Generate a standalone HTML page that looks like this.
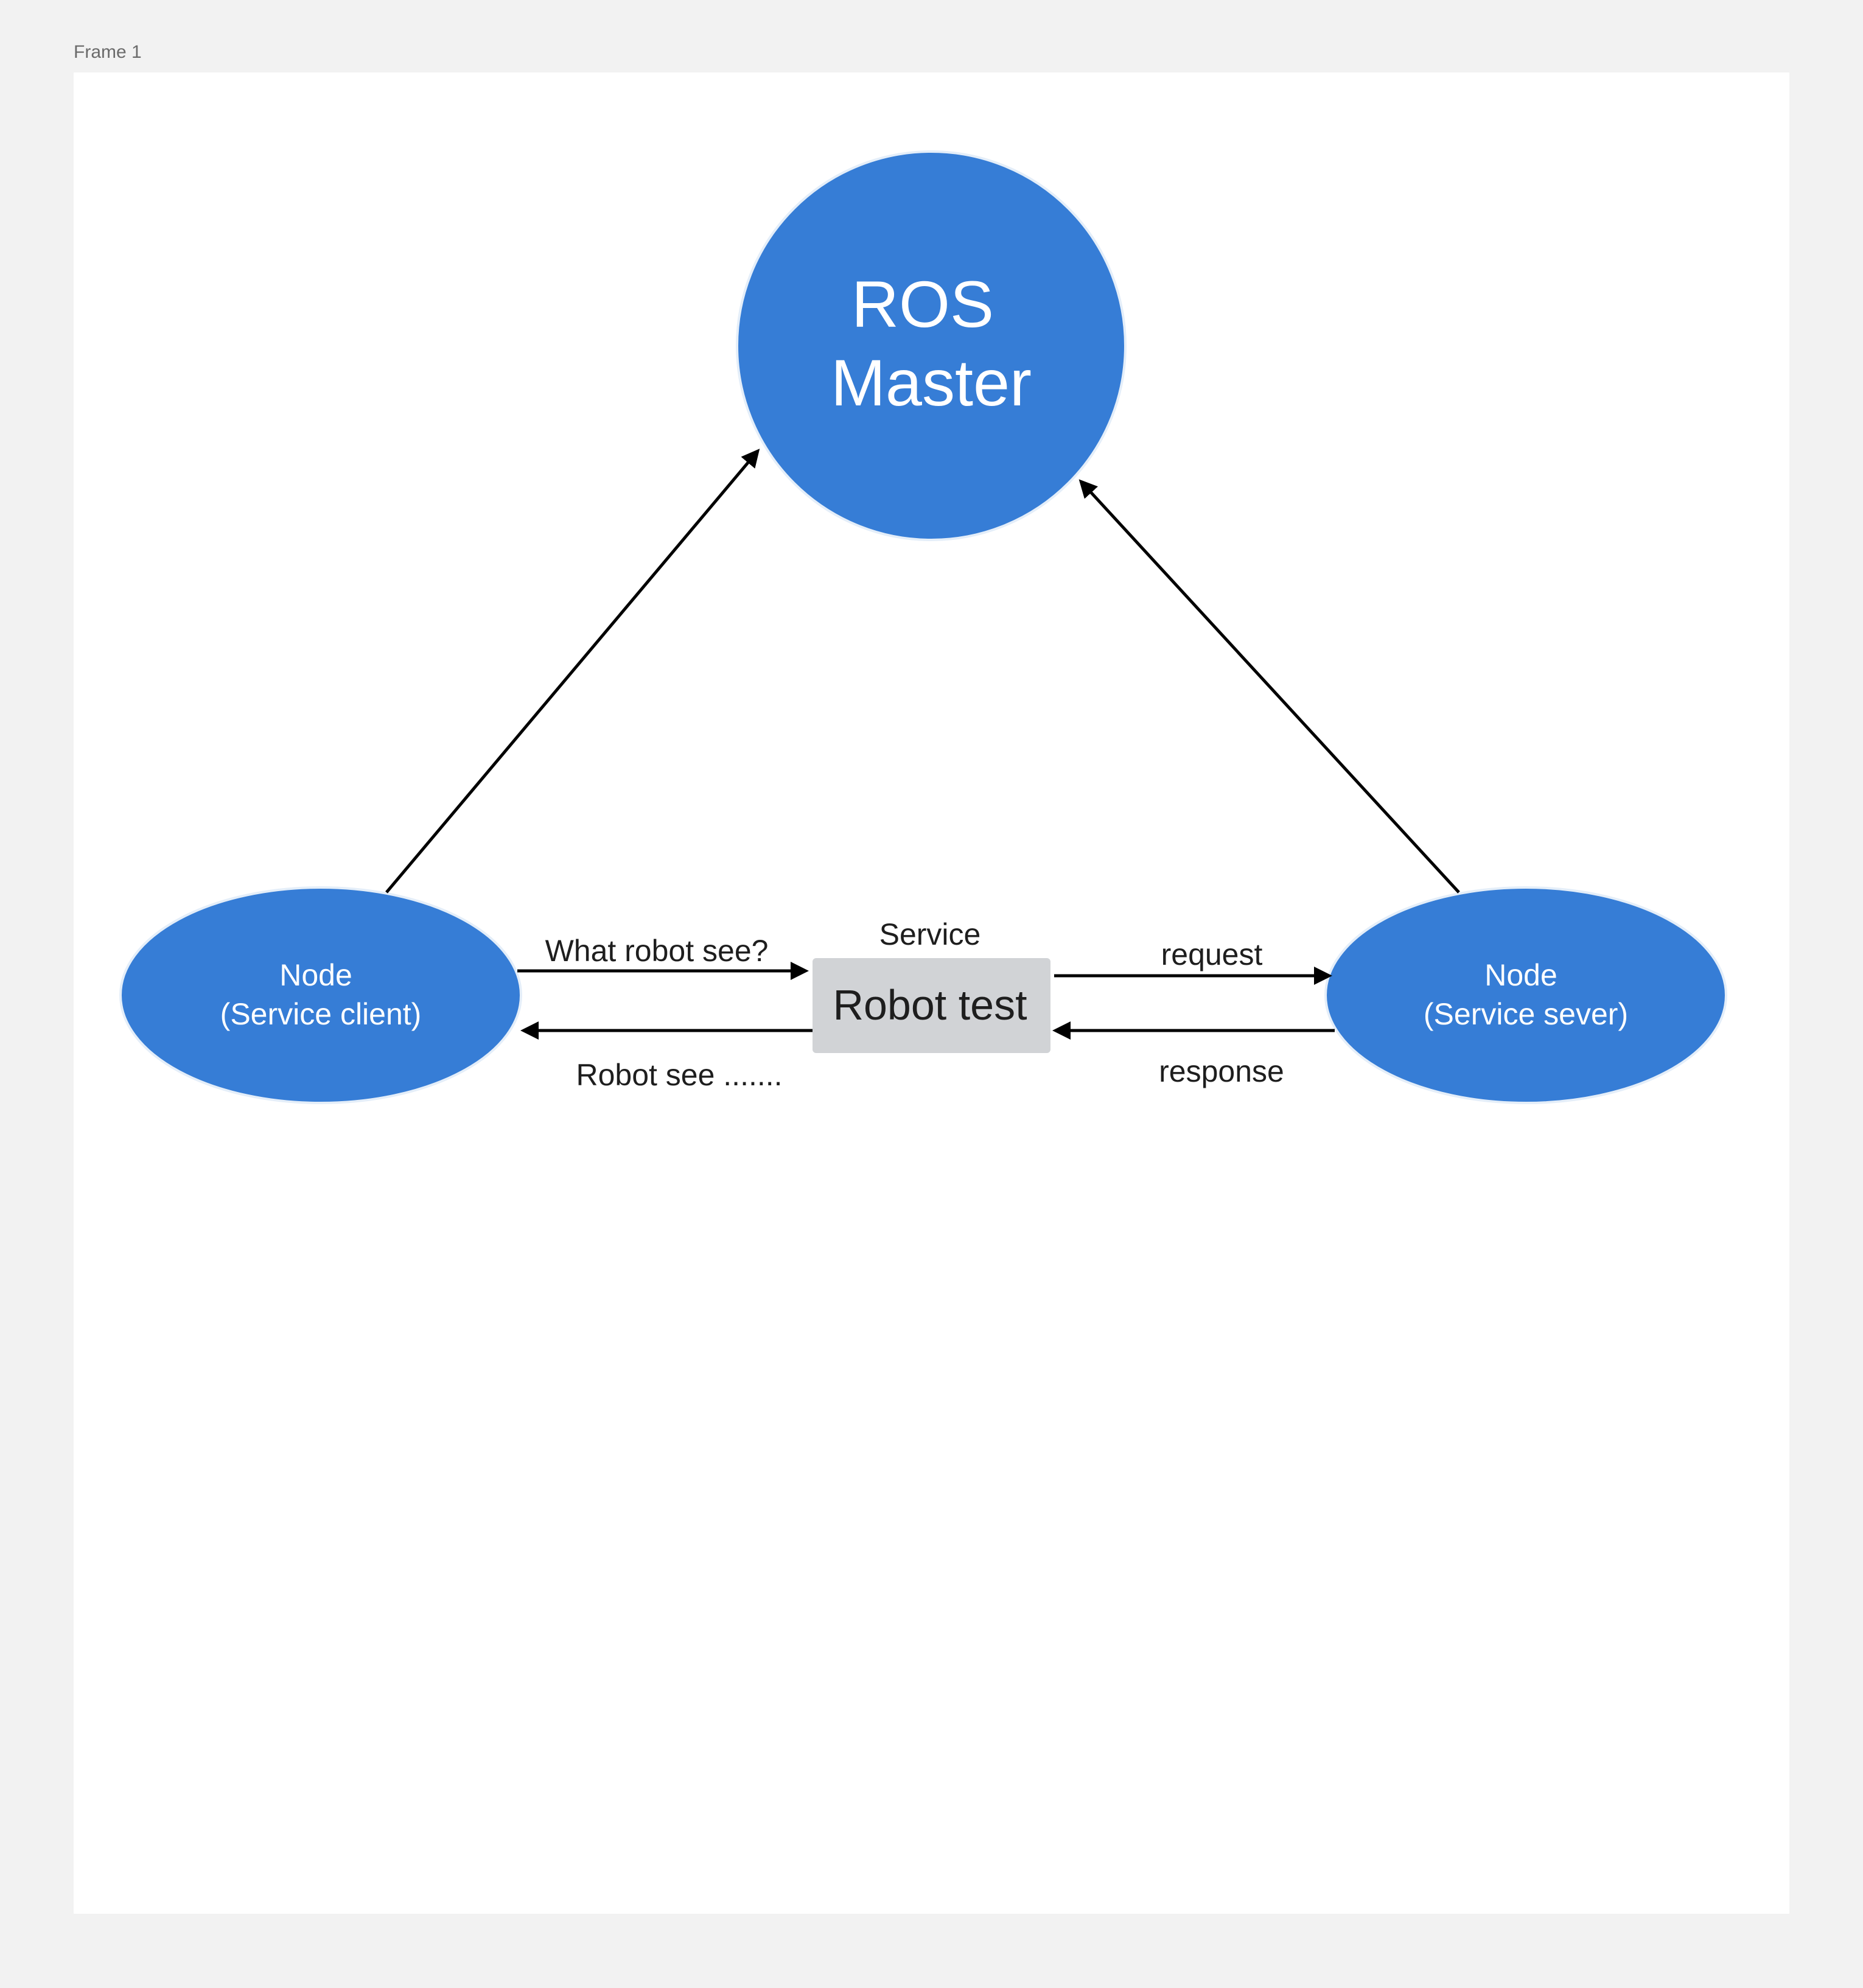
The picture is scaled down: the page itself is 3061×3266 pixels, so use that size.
<!DOCTYPE html>
<html><head><meta charset="utf-8"><style>
html,body{margin:0;padding:0;background:#f2f2f2;}
body{width:3061px;height:3266px;position:relative;overflow:hidden;font-family:"Liberation Sans",sans-serif;}
</style></head><body>
<svg width="3061" height="3266" viewBox="0 0 3061 3266" xmlns="http://www.w3.org/2000/svg" style="position:absolute;left:0;top:0">
<defs>
<marker id="ah" markerWidth="6" markerHeight="6" refX="5" refY="3" orient="auto" markerUnits="strokeWidth">
<path d="M0,0 L6,3 L0,6 z" fill="#000"/>
</marker>
</defs>
<rect x="0" y="0" width="3061" height="3266" fill="#f2f2f2"/>
<text x="121" y="95" font-size="30" fill="#6b6b6b" font-family="Liberation Sans, sans-serif">Frame 1</text>
<rect x="121" y="119" width="2819" height="3025" fill="#ffffff"/>
<circle cx="1530" cy="568" r="319" fill="#367dd6" stroke="#e4eef9" stroke-width="4"/>
<text x="1516" y="537" font-size="108" fill="#fff" text-anchor="middle">ROS</text>
<text x="1530" y="666" font-size="108" fill="#fff" text-anchor="middle">Master</text>
<ellipse cx="527" cy="1635" rx="329" ry="177" fill="#367dd6" stroke="#e4eef9" stroke-width="4"/>
<text x="519" y="1619" font-size="50" fill="#fff" text-anchor="middle">Node</text>
<text x="527" y="1683" font-size="50" fill="#fff" text-anchor="middle">(Service client)</text>
<ellipse cx="2507" cy="1635" rx="329" ry="177" fill="#367dd6" stroke="#e4eef9" stroke-width="4"/>
<text x="2499" y="1619" font-size="50" fill="#fff" text-anchor="middle">Node</text>
<text x="2507" y="1683" font-size="50" fill="#fff" text-anchor="middle">(Service sever)</text>
<rect x="1335" y="1574" width="391" height="156" rx="6" fill="#d1d3d6"/>
<text x="1528" y="1675" font-size="70" fill="#1e1e1e" text-anchor="middle">Robot test</text>
<g stroke="#000" stroke-width="5" fill="none" marker-end="url(#ah)">
<line x1="635" y1="1466" x2="1245" y2="741"/>
<line x1="2397" y1="1466" x2="1776" y2="791"/>
<line x1="850" y1="1595" x2="1324" y2="1595"/>
<line x1="1335" y1="1693" x2="860" y2="1693"/>
<line x1="1732" y1="1603" x2="2184" y2="1603"/>
<line x1="2193" y1="1693" x2="1734" y2="1693"/>
</g>
<g font-size="50" fill="#1e1e1e" text-anchor="middle">
<text x="1079" y="1579">What robot see?</text>
<text x="1528" y="1552">Service</text>
<text x="1991" y="1585">request</text>
<text x="1116" y="1783">Robot see .......</text>
<text x="2007" y="1777">response</text>
</g>
</svg>
</body></html>
